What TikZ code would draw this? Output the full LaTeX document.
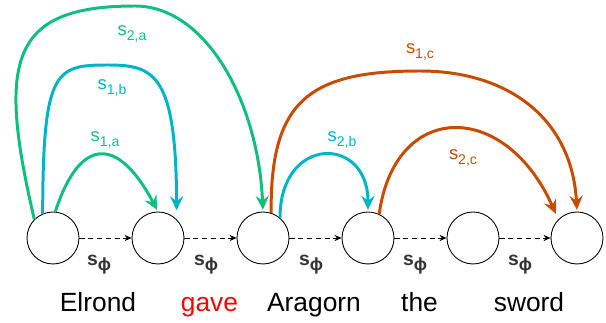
\documentclass[tikz,border=0pt]{standalone}
\usepackage{fontspec}
\setmainfont{Liberation Sans}
\usetikzlibrary{arrows.meta}
\definecolor{arcgreen}{RGB}{16,190,125}
\definecolor{arcblue}{RGB}{0,180,200}
\definecolor{arcorange}{RGB}{200,75,0}
\definecolor{phigray}{RGB}{51,51,51}
\newcommand{\slbl}[1]{s\raisebox{-0.45ex}{\fontsize{8}{9}\selectfont #1}}
\newcommand{\sphi}{\textbf{s\raisebox{-0.5ex}{\fontsize{10}{11}\selectfont ϕ}}}

\begin{document}
\begin{tikzpicture}[x=0.02cm,y=-0.02cm,
  tok/.style={circle,draw,line width=0.5pt,minimum size=1.04cm,inner sep=0pt},
  arc/.style={line width=1.7pt,-{Stealth[length=8pt,width=7.5pt,inset=2.8pt]}},
  seq/.style={densely dashed,line width=0.4pt,-{Stealth[length=4pt,width=3.5pt]}},
  lbl/.style={font=\fontsize{10.5}{11}\selectfont},
  word/.style={anchor=base,font=\fontsize{15}{16}\selectfont}]
\useasboundingbox (0,0) rectangle (606,323);

% Token nodes
\foreach \i/\x in {1/53,2/158,3/263,4/368,5/473,6/577}
  \node[tok] (c\i) at (\x,238) {};

% Sequential edges
\foreach \i/\j/\x in {1/2/99,2/3/206,3/4/311,4/5/415,5/6/520} {
  \draw[seq] (c\i) -- (c\j);
  \node[phigray,font=\fontsize{11}{12}\selectfont] (p\i) at (\x,265) {\sphi};
}

% Skip arcs
\draw[arc,arcgreen,shorten >=1pt] (c1.85) .. controls (80,136) and (118,136) .. (c2.north);
\node[arcgreen,lbl] (l1a) at (105,140) {\slbl{1,a}};

\draw[arc,arcblue,shorten >=0.18cm] (c1.113) .. controls (43,70) and (55,65) .. (108,65)
  .. controls (155,65) and (176,75) .. (c2.45);
\node[arcblue,lbl] (l1b) at (112,88) {\slbl{1,b}};

\draw[arc,arcgreen,shorten >=1pt] (c1.135) .. controls (-3,60) and (10,6) .. (135,6)
  .. controls (205,6) and (258,100) .. (c3.north);
\node[arcgreen,lbl] (l2a) at (132,34) {\slbl{2,a}};

\draw[arc,arcblue,shorten >=1pt] (c3.50) .. controls (280,135) and (368,135) .. (c4.north);
\node[arcblue,lbl] (l2b) at (342,140) {\slbl{2,b}};

\draw[arc,arcorange,shorten >=1pt] (c3.72) .. controls (270,100) and (310,71) .. (420,71)
  .. controls (510,71) and (572,120) .. (c6.north);
\node[arcorange,lbl] (l1c) at (420,52) {\slbl{1,c}};

\draw[arc,arcorange,shorten >=0.12cm] (c4.65) .. controls (395,100) and (505,100) .. (c6.135);
\node[arcorange,lbl] (l2c) at (463,158) {\slbl{2,c}};

% Words
\node[word] (w1) at (98,312) {Elrond};
\node[word,red] (w2) at (209.5,312) {gave};
\node[word] (w3) at (314,312) {Aragorn};
\node[word] (w4) at (419.5,312) {the};
\node[word] (w5) at (529,312) {sword};
\end{tikzpicture}
\end{document}
